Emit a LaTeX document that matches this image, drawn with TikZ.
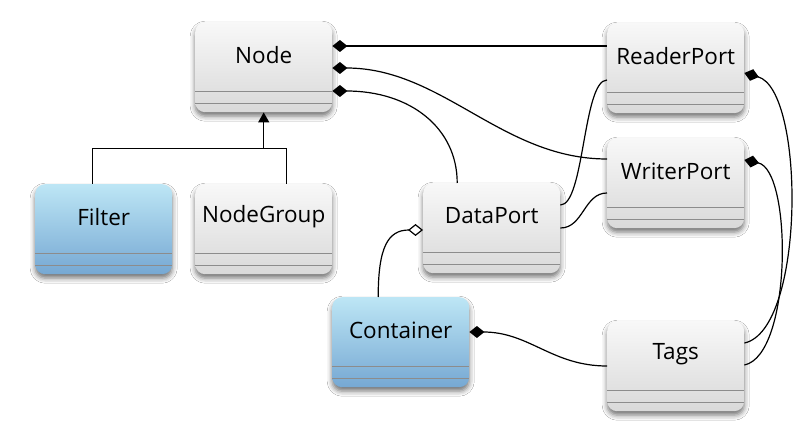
\documentclass[tikz,border=0pt]{standalone}
\usepackage{fontspec}
\setmainfont{Open Sans}
\usetikzlibrary{arrows.meta,shadows.blur}
\definecolor{wtop}{HTML}{F8F8F8}
\definecolor{wbot}{HTML}{D9D9D9}
\definecolor{btop}{HTML}{BDE6F5}
\definecolor{bbot}{HTML}{76A8D3}
\definecolor{sepc}{HTML}{8C8C8C}
\newcommand\umlclass[5]{%
  \node[#1] (#2) at (#3,#4) {};
  \node[lbl] (#2-t) at ([yshift=-33pt]#2.north) {#5};
  \draw[sepl] ([yshift=-69pt]#2.north west) -- ([yshift=-69pt]#2.north east);
  \draw[sepl] ([yshift=-81pt]#2.north west) -- ([yshift=-81pt]#2.north east);}
\begin{document}
\begin{tikzpicture}[x=1pt,y=-1pt,
  box/.style={draw=none, rounded corners=10pt, minimum width=137pt, minimum height=90pt,
    anchor=north west, inner sep=0pt,
    blur shadow={shadow xshift=0pt, shadow yshift=-4pt, shadow blur radius=5pt, shadow opacity=55}},
  wbox/.style={box, top color=wtop, bottom color=wbot},
  bbox/.style={box, top color=btop, bottom color=bbot},
  lbl/.style={font=\fontsize{22.5}{26}\selectfont, text=black, inner sep=0pt},
  sepl/.style={draw=sepc, line width=0.9pt},
  conn/.style={line width=1.2pt, draw=black},
  comp/.style={{Diamond[length=15pt,width=12pt]}-},
  aggr/.style={{Diamond[open,length=15pt,width=12pt,fill=white]}-},
  inh/.style={-{Triangle[length=10pt,width=11pt]}}
]
\useasboundingbox[fill=white] (0,0) rectangle (797,435);

\umlclass{wbox}{nd}{195}{22}{Node}
\umlclass{bbox}{ft}{35}{184}{Filter}
\umlclass{wbox}{ng}{195}{184}{NodeGroup}
\umlclass{wbox}{dp}{423}{183}{DataPort}
\umlclass{bbox}{ct}{332}{297}{Container}
\umlclass{wbox}{rp}{607}{23}{ReaderPort}
\umlclass{wbox}{wp}{607}{138}{WriterPort}
\umlclass{wbox}{tg}{607}{321}{Tags}

% inheritance
\coordinate (jn) at ([yshift=-36pt]nd.south);
\draw[conn] ([xshift=-11.5pt]ft.north) |- (jn) -| ([xshift=22.5pt]ng.north);
\draw[conn,inh] (jn) -- (nd.south);

% compositions from Node
\draw[conn,comp] ([yshift=-24pt]nd.north east) -- ([yshift=-23pt]rp.north west);
\draw[conn,comp] ([yshift=-46pt]nd.north east) .. controls +(110,0) and +(-105,0) .. ([yshift=-21pt]wp.north west);
\draw[conn,comp] ([yshift=-69pt]nd.north east) .. controls +(78,0) and +(0,-55) .. ([xshift=-34.5pt]dp.north);

% DataPort to ports
\draw[conn] ([yshift=-57pt]rp.north west) .. controls +(-24,0) and +(24,0) .. ([yshift=-22pt]dp.north east);
\draw[conn] ([yshift=-55pt]wp.north west) .. controls +(-23,0) and +(23,0) .. ([yshift=-45pt]dp.north east);

% ports to Tags
\draw[conn,comp] ([yshift=-50pt]rp.north east) .. controls +(61,17) and +(61,-13) .. ([yshift=-22pt]tg.north east);
\draw[conn,comp] ([yshift=-22pt]wp.north east) .. controls +(48,10) and +(48,-10) .. ([yshift=-44pt]tg.north east);

% Container to Tags
\draw[conn,comp] ([yshift=-35pt]ct.north east) .. controls +(60,0) and +(-55,0) .. ([yshift=-45pt]tg.north west);

% DataPort aggregation to Container
\draw[conn,aggr] ([yshift=-47pt]dp.north west) .. controls +(-35,0) and +(0,-50) .. ([xshift=-22.5pt]ct.north);
\end{tikzpicture}
\end{document}
